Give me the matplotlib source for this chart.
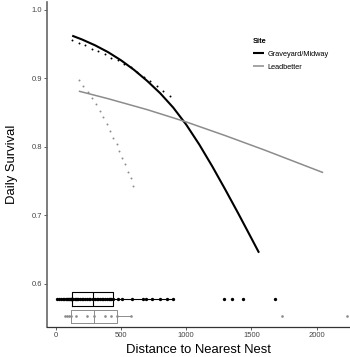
import matplotlib
matplotlib.use("Agg")
import matplotlib.pyplot as plt

plt.rcParams['font.family'] = ['Liberation Sans', 'DejaVu Sans']

# fitted survival curves
gm_dist = [125, 200, 300, 400, 500, 600, 700, 800, 900, 1000, 1100, 1200, 1300, 1400, 1500, 1558]
gm_surv = [0.962, 0.9565, 0.948, 0.938, 0.926, 0.912, 0.896, 0.878, 0.857, 0.832,
           0.803, 0.771, 0.737, 0.702, 0.666, 0.645]
lb_dist = [176, 400, 700, 1000, 1300, 1600, 1900, 2050]
lb_surv = [0.881, 0.870, 0.854, 0.836, 0.816, 0.795, 0.773, 0.762]

# dotted predictions
gm_dot_dist = [125, 175, 225, 275, 325, 375, 425, 475, 525, 575, 625, 675, 725, 775, 825, 875]
gm_dot_surv = [0.955, 0.9515, 0.948, 0.943, 0.939, 0.935, 0.930, 0.926, 0.921, 0.916,
               0.909, 0.902, 0.896, 0.889, 0.881, 0.874]
lb_dot_dist = [177, 210, 243, 276, 307, 338, 363, 389, 414, 440, 466, 487, 510, 530, 553, 574, 594]
lb_dot_surv = [0.897, 0.889, 0.880, 0.871, 0.862, 0.852, 0.843, 0.833, 0.823, 0.813,
               0.804, 0.794, 0.784, 0.774, 0.763, 0.754, 0.743]

# nest distances for the boxplots
gm_nests = [10, 25, 40, 56, 66, 74, 84, 94, 100, 105, 113, 118, 121, 125,
            133, 145, 154, 165, 171, 185, 197, 210, 223, 240, 252, 261, 281,
            286, 298, 312, 325, 338, 350, 363, 378, 394, 405, 414, 425, 435,
            478, 505, 583, 668, 692, 740, 800, 855, 898, 1289, 1353, 1435, 1681]
lb_nests = [69, 87, 100, 113, 158, 235, 294, 376, 422, 470, 573, 1737, 2231]

sites = ["Graveyard/Midway", "Leadbetter"]
colors = ["black", "#8c8c8c"]

fig = plt.figure(figsize=(3.5, 3.57), dpi=100)
ax = fig.add_axes([0.134, 0.084, 0.866, 0.91])

ax.plot(gm_dist, gm_surv, color=colors[0], lw=1.5, label=sites[0], solid_capstyle='butt')
ax.plot(lb_dist, lb_surv, color=colors[1], lw=1.1, label=sites[1], solid_capstyle='butt')
ax.plot(gm_dot_dist, gm_dot_surv, 'o', color=colors[0], ms=1.4, mew=0)
ax.plot(lb_dot_dist, lb_dot_surv, 'o', color=colors[1], ms=1.4, mew=0)

rows = [0.577, 0.552]
for data, y, c, lw in [(gm_nests, rows[0], colors[0], 0.8), (lb_nests, rows[1], colors[1], 0.7)]:
    ax.boxplot([data], positions=[y], widths=0.02, orientation='horizontal',
               showfliers=False, manage_ticks=False,
               boxprops=dict(color=c, lw=lw), whiskerprops=dict(color=c, lw=lw),
               capprops=dict(lw=0), medianprops=dict(color=c, lw=lw))
    ax.plot(data, [y] * len(data), 'o', color=c, ms=2.4 if c == 'black' else 1.9, mew=0)

ax.set_xlim(-69, 2256)
ax.set_ylim(0.5365, 1.011)
ax.set_xticks([0, 500, 1000, 1500, 2000])
ax.set_yticks([0.6, 0.7, 0.8, 0.9, 1.0])
ax.set_yticklabels(["0.6", "0.7", "0.8", "0.9", "1.0"])
for s in ['top', 'right']:
    ax.spines[s].set_visible(False)
ax.spines['left'].set_color('#666666')
ax.spines['left'].set_linewidth(1.2)
ax.spines['bottom'].set_color('#333333')
ax.spines['bottom'].set_linewidth(0.9)
ax.tick_params(labelsize=5.5, colors='#444444', length=2, width=0.6, pad=1.5)

ax.set_xlabel("Distance to Nearest Nest", fontsize=9.4, labelpad=4)
ax.set_ylabel("Daily Survival", fontsize=9.4, labelpad=10)

leg = ax.legend(title="Site", loc='upper left', bbox_to_anchor=(0.668, 0.9),
                frameon=False, fontsize=5.3, handlelength=1.5, handletextpad=0.5,
                borderpad=0, labelspacing=0.75, alignment='left')
leg.get_title().set_fontsize(5.3)
leg.get_title().set_fontweight('bold')

fig.savefig("out.png", dpi=100)
